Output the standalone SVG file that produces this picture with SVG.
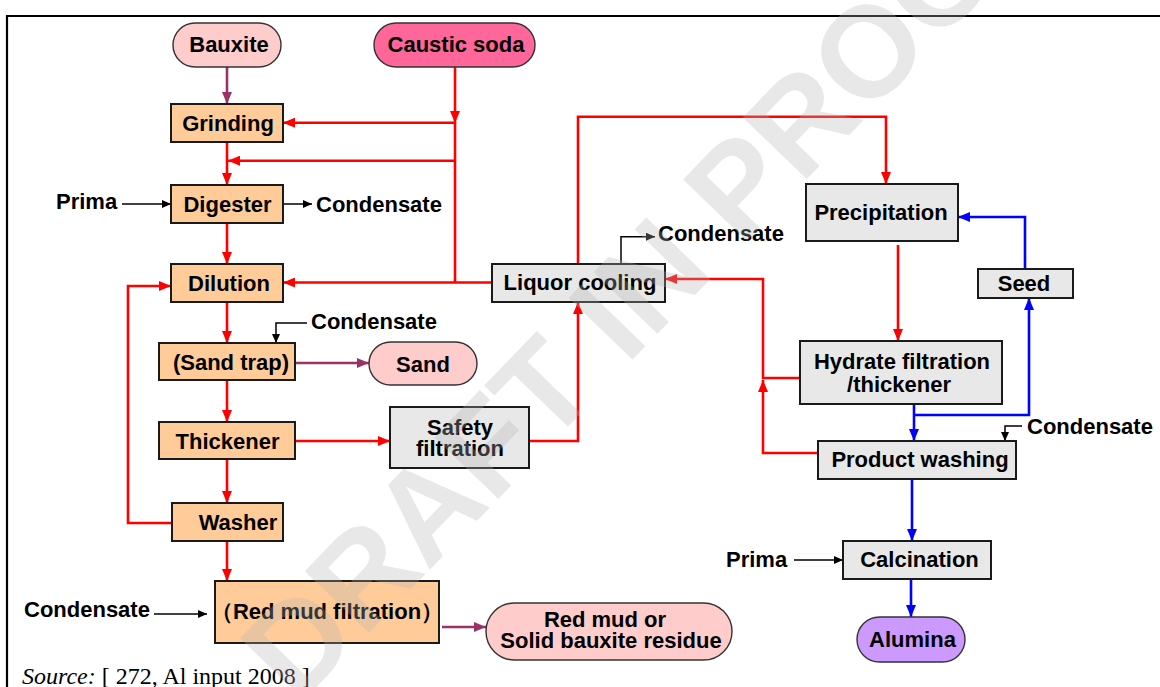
<svg xmlns="http://www.w3.org/2000/svg" width="1160" height="687" viewBox="0 0 1160 687">
<style>
.t{font-family:"Liberation Sans",Arial,sans-serif;font-weight:bold;font-size:22px;fill:#000;text-anchor:middle}
.ts{font-family:"Liberation Sans",Arial,sans-serif;font-weight:bold;font-size:22px;fill:#000}
.or{fill:#FFCC99;stroke:#1a1a1a;stroke-width:2}
.gr{fill:#E8E8E8;stroke:#1a1a1a;stroke-width:2}
.pk{fill:#FFCCCC;stroke:#333;stroke-width:1.4}
.red{fill:none;stroke:#FF0000;stroke-width:2.6}
.blu{fill:none;stroke:#0000FF;stroke-width:2.6}
.pur{fill:none;stroke:#993366;stroke-width:2.6}
.blk{fill:none;stroke:#000;stroke-width:1.5}
</style>
<defs>
<marker id="ar" viewBox="0 0 12 10" markerWidth="12" markerHeight="10" refX="12" refY="5" orient="auto" markerUnits="userSpaceOnUse"><path d="M0,0 L12,5 L0,10 z" fill="#FF0000"/></marker>
<marker id="ab" viewBox="0 0 12 10" markerWidth="12" markerHeight="10" refX="12" refY="5" orient="auto" markerUnits="userSpaceOnUse"><path d="M0,0 L12,5 L0,10 z" fill="#0000FF"/></marker>
<marker id="ap" viewBox="0 0 12 10" markerWidth="12" markerHeight="10" refX="12" refY="5" orient="auto" markerUnits="userSpaceOnUse"><path d="M0,0 L12,5 L0,10 z" fill="#993366"/></marker>
<marker id="ak" viewBox="0 0 9 8" markerWidth="9" markerHeight="8" refX="9" refY="4" orient="auto" markerUnits="userSpaceOnUse"><path d="M0,0 L9,4 L0,8 z" fill="#000"/></marker>
</defs>
<rect width="1160" height="687" fill="#fff"/>
<path d="M7,687 V16 H1160" fill="none" stroke="#000" stroke-width="2.2"/>

<g id="connectors">
<path class="pur" d="M227,67 V104" marker-end="url(#ap)"/>
<path class="red" d="M455,67 V123" marker-end="url(#ar)"/>
<path class="red" d="M455,122.7 V282.5"/>
<path class="red" d="M455,122.7 H283" marker-end="url(#ar)"/>
<path class="red" d="M455,160.7 H228" marker-end="url(#ar)"/>
<path class="red" d="M227,142 V185" marker-end="url(#ar)"/>
<path class="blk" d="M122,204 H171" marker-end="url(#ak)"/>
<path class="blk" d="M283,204 H312" marker-end="url(#ak)"/>
<path class="red" d="M227,223 V264" marker-end="url(#ar)"/>
<path class="red" d="M492,282.5 H283" marker-end="url(#ar)"/>
<path class="red" d="M227,302 V343" marker-end="url(#ar)"/>
<path class="blk" d="M307,323 H276 V343" marker-end="url(#ak)"/>
<path class="pur" d="M295,363 H369" marker-end="url(#ap)"/>
<path class="red" d="M227,380 V422" marker-end="url(#ar)"/>
<path class="red" d="M295,441 H390" marker-end="url(#ar)"/>
<path class="red" d="M227,459 V503" marker-end="url(#ar)"/>
<path class="red" d="M172,523 H128 V286 H171" marker-end="url(#ar)"/>
<path class="red" d="M227,541 V581" marker-end="url(#ar)"/>
<path class="blk" d="M154,614 H207" marker-end="url(#ak)"/>
<path class="pur" d="M442,627 H486" marker-end="url(#ap)"/>
<path class="red" d="M529,441 H578 V302" marker-end="url(#ar)"/>
<path class="red" d="M578,264 V116.7 H886 V184" marker-end="url(#ar)"/>
<path class="blk" d="M621,264 V236.7 H655" marker-end="url(#ak)"/>
<path class="red" d="M800,378 H763 V279 H665" marker-end="url(#ar)"/>
<path class="red" d="M818,453 H763 V380" marker-end="url(#ar)"/>
<path class="red" d="M898,245 V341" marker-end="url(#ar)"/>
<path class="blu" d="M1025,269 V217 H958" marker-end="url(#ab)"/>
<path class="blu" d="M914,404 V441" marker-end="url(#ab)"/>
<path class="blu" d="M914,415 H1029 V298" marker-end="url(#ab)"/>
<path class="blk" d="M1022,426 H1005 V441" marker-end="url(#ak)"/>
<path class="blu" d="M912,479 V541" marker-end="url(#ab)"/>
<path class="blk" d="M794,560 H843" marker-end="url(#ak)"/>
<path class="blu" d="M911,579 V617" marker-end="url(#ab)"/>
</g>

<g id="bauxite"><rect class="pk" x="173" y="23" width="108" height="44" rx="22"/><text class="t" x="229" y="52">Bauxite</text></g>
<g id="caustic-soda"><rect x="374" y="23" width="161" height="44" rx="22" fill="#FF6699" stroke="#333" stroke-width="1.4"/><text class="t" x="456" y="52">Caustic soda</text></g>
<g id="grinding"><rect class="or" x="171" y="104" width="112" height="38"/><text class="t" x="228" y="131">Grinding</text></g>
<g id="prima-left"><text class="ts" x="56" y="209">Prima</text></g>
<g id="digester"><rect class="or" x="171" y="185" width="112" height="38"/><text class="t" x="227.5" y="211.5">Digester</text></g>
<g id="condensate-1"><text class="ts" x="316" y="212">Condensate</text></g>
<g id="dilution"><rect class="or" x="171" y="264" width="112" height="38"/><text class="t" x="229" y="291">Dilution</text></g>
<g id="condensate-2"><text class="ts" x="311" y="328.5">Condensate</text></g>
<g id="sand-trap"><rect class="or" x="159" y="343" width="136" height="37"/><text class="t" x="231" y="370">(Sand trap)</text></g>
<g id="sand"><rect class="pk" x="369" y="342" width="108" height="43" rx="21.5"/><text class="t" x="423" y="371.5">Sand</text></g>
<g id="thickener"><rect class="or" x="159" y="422" width="136" height="37"/><text class="t" x="227.5" y="448.5">Thickener</text></g>
<g id="safety-filtration"><rect class="gr" x="390" y="407" width="139" height="61"/><text class="t" x="460" y="435">Safety</text><text class="t" x="460" y="456">filtration</text></g>
<g id="washer"><rect class="or" x="172" y="503" width="111" height="38"/><text class="t" x="238" y="530">Washer</text></g>
<g id="condensate-3"><text class="ts" x="24" y="617">Condensate</text></g>
<g id="red-mud-filtration"><rect class="or" x="215" y="581" width="224" height="62"/><text class="t" x="327" y="618.5" font-family="Liberation Sans,Noto Sans CJK SC,sans-serif">（Red mud filtration）</text></g>
<g id="red-mud-residue"><rect class="pk" x="486" y="603" width="246" height="57" rx="28.5"/><text class="t" x="605" y="627">Red mud or</text><text class="t" x="611" y="647.5">Solid bauxite residue</text></g>
<g id="liquor-cooling"><rect class="gr" x="492" y="264" width="173" height="38"/><text class="t" x="580" y="289.5">Liquor cooling</text></g>
<g id="condensate-4"><text class="ts" x="658" y="241">Condensate</text></g>
<g id="precipitation"><rect class="gr" x="806" y="184" width="152" height="57"/><text class="t" x="881" y="220">Precipitation</text></g>
<g id="seed"><rect class="gr" x="978" y="269" width="95" height="29"/><text class="t" x="1024" y="290.5">Seed</text></g>
<g id="hydrate-filtration"><rect class="gr" x="800" y="341" width="202" height="63"/><text class="t" x="902" y="369">Hydrate filtration</text><text class="t" x="899" y="392">/thickener</text></g>
<g id="condensate-5"><text class="ts" x="1027" y="434">Condensate</text></g>
<g id="product-washing"><rect class="gr" x="818" y="441" width="198" height="38"/><text class="t" x="920" y="467">Product washing</text></g>
<g id="prima-right"><text class="ts" x="726" y="567">Prima</text></g>
<g id="calcination"><rect class="gr" x="843" y="541" width="148" height="38"/><text class="t" x="919.5" y="567">Calcination</text></g>
<g id="alumina"><rect x="857" y="617" width="108" height="45" rx="22.5" fill="#CC99FF" stroke="#333" stroke-width="1.4"/><text class="t" x="912.5" y="646.5">Alumina</text></g>

<g id="source"><text x="22" y="684" font-family="Liberation Serif,Times New Roman,serif" font-size="24"><tspan font-style="italic">Source:</tspan> [ 272, Al input 2008 ]</text></g>

<g id="watermark"><text transform="translate(298,706) rotate(-46)" font-family="Liberation Sans,Arial,sans-serif" font-weight="bold" font-size="129" fill="#b4b4b4" opacity="0.3">DRAFT IN PROGRESS</text></g>
</svg>
